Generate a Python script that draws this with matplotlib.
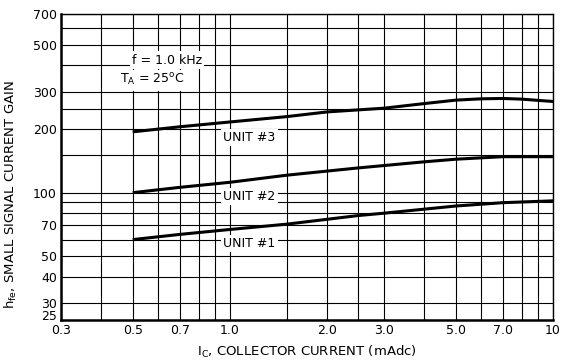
import matplotlib
matplotlib.use("Agg")
import matplotlib.pyplot as plt
from matplotlib.ticker import FixedLocator, FixedFormatter, NullLocator

plt.rcParams['font.family'] = ['DejaVu Sans']

# collector current (mAdc) and small signal gain per unit
ic_unit3 = [0.5, 0.7, 1.0, 1.5, 2.0, 3.0, 4.0, 5.0, 6.0, 7.0, 8.0, 10.0]
hfe_unit3 = [194, 205, 216, 229, 241, 251, 264, 274, 278, 279, 277, 270]

ic_unit2 = [0.5, 0.7, 1.0, 1.5, 2.5, 4.0, 5.0, 7.0, 10.0]
hfe_unit2 = [100, 106, 112, 121, 131, 140, 144, 148, 148]

ic_unit1 = [0.5, 0.7, 1.0, 1.5, 2.5, 3.0, 5.0, 7.0, 10.0]
hfe_unit1 = [60, 63.5, 67, 71, 78, 80, 86.5, 89.7, 91.5]

x_grid = [0.3, 0.4, 0.5, 0.6, 0.7, 0.8, 0.9, 1.0, 1.5, 2.0, 2.5, 3.0,
          4.0, 5.0, 6.0, 7.0, 8.0, 9.0, 10.0]
y_grid = [25, 30, 40, 50, 60, 70, 80, 90, 100, 150, 200, 250, 300,
          400, 500, 600, 700]
x_ticks = [0.3, 0.5, 0.7, 1.0, 2.0, 3.0, 5.0, 7.0, 10.0]
x_labels = ['0.3', '0.5', '0.7', '1.0', '2.0', '3.0', '5.0', '7.0', '10']
y_ticks = [25, 30, 40, 50, 70, 100, 200, 300, 500, 700]
y_labels = ['25', '30', '40', '50', '70', '100', '200', '300', '500', '700']

fig = plt.figure(figsize=(5.67, 3.62), dpi=100)
ax = fig.add_axes([61 / 567, 1 - 320 / 362, 492 / 567, 306 / 362])
ax.set_xscale('log')
ax.set_yscale('log')
ax.set_xlim(0.3, 10)
ax.set_ylim(25, 700)

for xv in x_grid:
    ax.axvline(xv, color='black', lw=0.8, zorder=1)
for yv in y_grid:
    ax.axhline(yv, color='black', lw=0.8, zorder=1)

for xs, ys in [(ic_unit3, hfe_unit3), (ic_unit2, hfe_unit2), (ic_unit1, hfe_unit1)]:
    ax.plot(xs, ys, color='black', lw=2.2, solid_capstyle='butt', zorder=3)

box = dict(facecolor='white', edgecolor='none', pad=1.5)
ax.text(1.15, 183, 'UNIT #3', fontsize=9, ha='center', va='center', bbox=box, zorder=4)
ax.text(1.15, 96, 'UNIT #2', fontsize=9, ha='center', va='center', bbox=box, zorder=4)
ax.text(1.15, 57.5, 'UNIT #1', fontsize=9, ha='center', va='center', bbox=box, zorder=4)
ax.text(0.64, 424, 'f = 1.0 kHz', fontsize=9, ha='center', va='center', bbox=box, zorder=4)
ax.text(0.575, 340, r'T$_\mathregular{A}$ = 25$^\mathregular{o}$C', fontsize=9,
        ha='center', va='center', bbox=dict(facecolor='white', edgecolor='none', pad=2.0), zorder=4)

ax.xaxis.set_major_locator(FixedLocator(x_ticks))
ax.xaxis.set_major_formatter(FixedFormatter(x_labels))
ax.xaxis.set_minor_locator(NullLocator())
ax.yaxis.set_major_locator(FixedLocator(y_ticks))
ax.yaxis.set_major_formatter(FixedFormatter(y_labels))
ax.yaxis.set_minor_locator(NullLocator())
ax.tick_params(length=0, labelsize=9, pad=3)
ax.get_yticklabels()[0].set_va('baseline')

for s in ax.spines.values():
    s.set_linewidth(1.0)
ax.spines['left'].set_linewidth(1.8)
ax.spines['bottom'].set_linewidth(1.8)

ax.set_xlabel(r'I$_\mathregular{C}$, COLLECTOR CURRENT (mAdc)', fontsize=9.5)
ax.set_ylabel(r'h$_\mathregular{fe}$, SMALL SIGNAL CURRENT GAIN', fontsize=9.5)
ax.xaxis.set_label_coords(0.5, -0.078)
ax.yaxis.set_label_coords(-0.085, 0.41)

fig.savefig('out.png', dpi=100)
